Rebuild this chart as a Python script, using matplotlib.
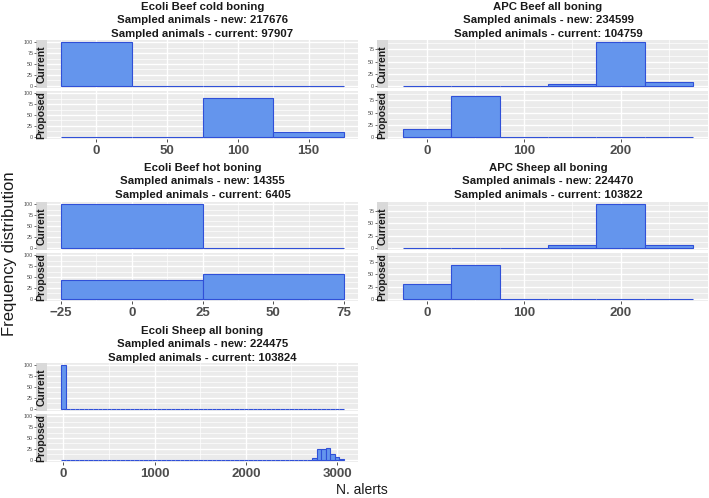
import numpy as np
import matplotlib
matplotlib.use("Agg")
from matplotlib import pyplot as plt
from matplotlib.ticker import MultipleLocator, FixedLocator

plt.rcParams["font.family"] = ["Liberation Sans", "DejaVu Sans"]

# panel titles and sample sizes
titles = ["Ecoli Beef cold boning", "APC Beef all boning", "Ecoli Beef hot boning",
          "APC Sheep all boning", "Ecoli Sheep all boning"]
sampled_new = [217676, 234599, 14355, 224470, 224475]
sampled_current = [97907, 104759, 6405, 103822, 103824]

# histogram bins (centres, width 50) and percentages
cold_bins = [0, 50, 100, 150]
cold_current = [100, 0, 0, 0]
cold_proposed = [0, 0, 88, 12]

apc_bins = [0, 50, 100, 150, 200, 250]
apc_beef_current = [0, 0, 0, 3, 90, 7]
apc_beef_proposed = [16, 84, 0, 0, 0, 0]

hot_bins = [0, 50]
hot_current = [100, 0]
hot_proposed = [44, 56]

apc_sheep_current = [0, 0, 0, 5, 89, 6]
apc_sheep_proposed = [31, 69, 0, 0, 0, 0]

# Ecoli sheep: 62 bins from 0 to 3050, only the non-empty ones listed
sheep_bins = list(range(0, 3051, 50))
sheep_current_nonzero = {0: 100}
sheep_proposed_nonzero = {2750: 4, 2800: 24, 2850: 24, 2900: 27, 2950: 13, 3000: 6, 3050: 2}
sheep_current = [sheep_current_nonzero.get(b, 0) for b in sheep_bins]
sheep_proposed = [sheep_proposed_nonzero.get(b, 0) for b in sheep_bins]

panels = [
    (cold_bins, cold_current, cold_proposed, [0, 50, 100, 150], 50),
    (apc_bins, apc_beef_current, apc_beef_proposed, [0, 100, 200], 100),
    (hot_bins, hot_current, hot_proposed, [-25, 0, 25, 50, 75], 25),
    (apc_bins, apc_sheep_current, apc_sheep_proposed, [0, 100, 200], 100),
    (sheep_bins, sheep_current, sheep_proposed, [0, 1000, 2000, 3000], 1000),
]

W, H = 709, 498
FILL = "#6495ED"
EDGE = "#3050D8"
PANEL_BG = "#EBEBEB"
STRIP_BG = "#D9D9D9"
GREY = "#4D4D4D"

# pixel layout: (strip left, panel left, panel right, top of current panel, title line y)
cols = [(36, 47, 358), (377, 388, 708)]
rows = [(40, 7), (202, 168), (363, 331)]
PH, GAP = 48, 3

fig = plt.figure(figsize=(W / 100, H / 100), dpi=100)


def rect(x0, y0, x1, y1):
    return [x0 / W, 1 - y1 / H, (x1 - x0) / W, (y1 - y0) / H]


for i, (bins, cur, prop, xt, xstep) in enumerate(panels):
    sl, pl, pr = cols[i % 2]
    top, ty = rows[i // 2]
    bins = np.asarray(bins, dtype=float)
    lo, hi = bins.min() - 25, bins.max() + 25
    span = hi - lo
    ymax = max(max(cur), max(prop))
    for line, txt in enumerate([titles[i], f"Sampled animals - new: {sampled_new[i]}",
                                f"Sampled animals - current: {sampled_current[i]}"]):
        fig.text((pl + pr) / 2 / W, 1 - (ty + 13.3 * line) / H, txt, ha="center", va="center",
                 fontsize=8.2, fontweight="bold", color="#1A1A1A")

    for k, (vals, lab) in enumerate([(cur, "Current"), (prop, "Proposed")]):
        y0 = top + k * (PH + GAP)
        ax = fig.add_axes(rect(pl, y0, pr, y0 + PH))
        sx = fig.add_axes(rect(sl, y0, pl, y0 + PH), sharey=ax)
        ax.set_facecolor(PANEL_BG)
        ax.bar(bins, vals, width=50, color=FILL, edgecolor=EDGE, linewidth=0.8, zorder=3)
        ax.set_xlim(lo - 0.05 * span, hi + 0.05 * span)
        ax.set_ylim(-0.05 * ymax, 1.05 * ymax)
        ax.yaxis.set_major_locator(MultipleLocator(25))
        ax.yaxis.set_minor_locator(MultipleLocator(12.5))
        ax.xaxis.set_major_locator(FixedLocator(xt))
        ax.xaxis.set_minor_locator(MultipleLocator(xstep / 2))
        ax.grid(True, which="major", color="white", linewidth=1.0, zorder=0)
        ax.grid(True, which="minor", color="white", linewidth=0.5, zorder=0)
        ax.set_axisbelow(True)
        for s in ax.spines.values():
            s.set_visible(False)
        ax.tick_params(axis="y", which="both", left=False, labelleft=False)
        ax.tick_params(axis="x", which="minor", bottom=False)
        if k == 1:
            ax.tick_params(axis="x", which="major", length=2.5, width=0.6, color="#333333",
                           labelsize=9.5, labelcolor=GREY, pad=1.5)
            for t in ax.get_xticklabels():
                t.set_fontweight("bold")
        else:
            ax.tick_params(axis="x", which="both", bottom=False, labelbottom=False)

        sx.set_facecolor(STRIP_BG)
        for s in sx.spines.values():
            s.set_visible(False)
        sx.set_xticks([])
        sx.tick_params(axis="y", which="major", length=1.5, width=0.5, color="#333333",
                       labelsize=3.9, labelcolor=GREY, pad=0.5)
        sx.tick_params(axis="y", which="minor", left=False)
        sx.text(0.5, 0.5, lab, transform=sx.transAxes, rotation=90, ha="center", va="center",
                fontsize=7.5, fontweight="bold", color="#1A1A1A")

fig.text(10 / W, 1 - 254 / H, "Frequency distribution", rotation=90, ha="center", va="center",
         fontsize=12, color="#1A1A1A")
fig.text(362 / W, 1 - 490 / H, "N. alerts", ha="center", va="center", fontsize=10, color="#1A1A1A")

fig.savefig("out.png", dpi=100)
